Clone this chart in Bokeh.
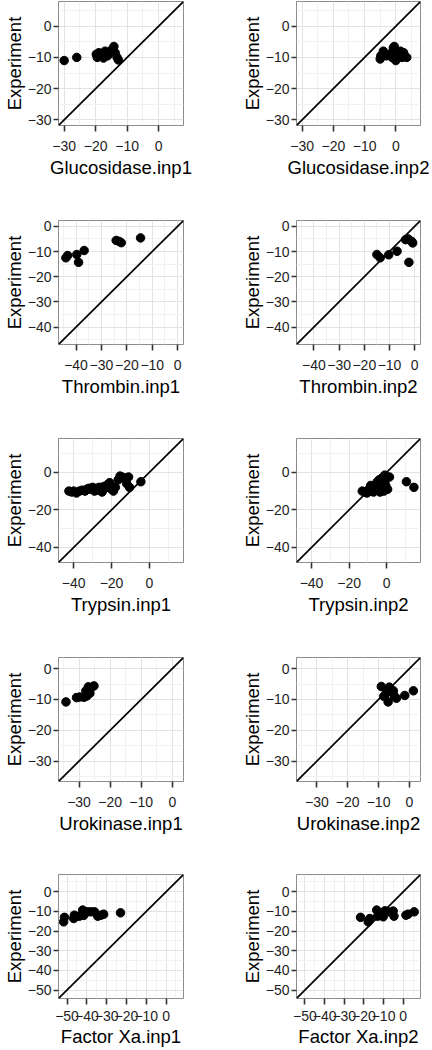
from bokeh.plotting import figure
from bokeh.models import Range1d, FixedTicker, Slope
from bokeh.layouts import column, row
from bokeh.embed import file_html
from bokeh.resources import INLINE

# ---------------- data ----------------
glu_inp1_x = [-30, -26, -19.8, -19.5, -19, -18.2, -17.5, -17, -16.2, -15.5, -14.8, -14.2, -13.8, -13.2, -12.8]
glu_inp1_y = [-11, -10, -9, -10, -8.5, -9, -10.2, -8, -9.5, -8.5, -7.5, -6.5, -8.5, -10, -10.8]
glu_inp2_x = [-5, -4.8, -4, -3, -2, -1.2, -0.8, -0.5, 0, 0.5, 1, 1.5, 2, 2.5, 3.5]
glu_inp2_y = [-10.5, -9.5, -8, -9.5, -9, -10, -7, -6.5, -11, -8.5, -9.5, -8, -10, -8.5, -10]

thr_inp1_x = [-44, -43.3, -39.7, -39, -36.8, -24.2, -23, -22.2, -14.6]
thr_inp1_y = [-12.5, -11.6, -11.2, -14.3, -9.6, -5.6, -6, -6.5, -4.6]
thr_inp2_x = [-15, -13.7, -10.3, -7, -3.6, -2.6, -2.3, -1.2, -0.8]
thr_inp2_y = [-11.2, -12.5, -11.3, -9.9, -5.3, -5, -14.3, -6, -6.6]

try_inp1_x = [-42.5, -41, -40, -38.5, -37, -35.5, -34, -33, -32, -31, -30, -29, -28, -27.5, -26.5, -25.5,
              -25, -24, -23.5, -22, -21, -20, -19, -18, -16.5, -15.5, -14.5, -13, -12, -11, -10.5, -4.5]
try_inp1_y = [-10, -10.5, -10, -11, -10, -9.5, -10, -9, -8.5, -9, -8, -10, -8.5, -9.5, -8, -9,
              -10.5, -7.5, -8.5, -6.5, -5.5, -9, -10, -8, -4, -2, -2.5, -3, -6, -2.5, -8, -5]
try_inp2_x = [-13, -11.5, -10.5, -9.5, -8.5, -8, -7, -7, -6, -5.5, -5, -4.5, -4, -3.5, -3, -3, -2.5, -2,
              -1.5, -1, -1, -0.5, 0, 0.5, 1.5, 10.5, 14.5]
try_inp2_y = [-10, -10.5, -11, -9, -7, -10, -8, -10.5, -6.5, -9, -5, -8, -4, -10.5, -6, -9, -3, -8,
              -10, -1.5, -5, -7, -3, -9, -2.5, -5, -8]

uro_inp1_x = [-34.2, -30.8, -29.8, -28.4, -27.8, -27.5, -27, -26.5, -26.2, -25.2]
uro_inp1_y = [-10.8, -9.4, -9.2, -9.3, -7.2, -8.9, -5.9, -8, -6.3, -5.6]
uro_inp2_x = [-9.1, -8.3, -7.5, -6.9, -6.5, -5.2, -4.8, -4.2, -1.5, 1.3]
uro_inp2_y = [-5.8, -9, -8, -10.8, -6, -7.2, -9, -9.6, -8.7, -7.2]

fxa_inp1_x = [-51.7, -51.3, -46.6, -46.3, -43.8, -42.1, -41.6, -39.7, -38, -36.1, -34.5, -32.8, -31.5, -23]
fxa_inp1_y = [-15.3, -13, -13.6, -11.9, -12.4, -9.3, -12, -10.2, -10.2, -10.2, -12.4, -11.9, -11.4, -10.7]
fxa_inp2_x = [-21.7, -17.8, -17, -13.5, -13, -11, -10.2, -9.3, -7.6, -5.1, -4.7, 1.4, 2.5, 5.6]
fxa_inp2_y = [-13, -15.3, -13.6, -9.3, -12.4, -11, -12.7, -9.7, -10.2, -9.8, -12.4, -11.9, -11.4, -10.2]

# axis limits (same for x and y) and tick values per target
glu_limits = (-31.8, 7.9)
thr_limits = (-46.9, 2.3)
try_limits = (-48.0, 18.0)
uro_limits = (-36.6, 3.6)
fxa_limits = (-54.3, 8.8)

glu_ticks, glu_minor = [-30, -20, -10, 0], [-25, -15, -5, 5]
thr_ticks, thr_minor = [-40, -30, -20, -10, 0], [-45, -35, -25, -15, -5]
try_ticks, try_minor = [-40, -20, 0], [-30, -10, 10]
uro_ticks, uro_minor = [-30, -20, -10, 0], [-35, -25, -15, -5]
fxa_ticks, fxa_minor = [-50, -40, -30, -20, -10, 0], [-45, -35, -25, -15, -5, 5]

panels = [
    ("Glucosidase", glu_limits, glu_ticks, glu_minor, (glu_inp1_x, glu_inp1_y), (glu_inp2_x, glu_inp2_y)),
    ("Thrombin", thr_limits, thr_ticks, thr_minor, (thr_inp1_x, thr_inp1_y), (thr_inp2_x, thr_inp2_y)),
    ("Trypsin", try_limits, try_ticks, try_minor, (try_inp1_x, try_inp1_y), (try_inp2_x, try_inp2_y)),
    ("Urokinase", uro_limits, uro_ticks, uro_minor, (uro_inp1_x, uro_inp1_y), (uro_inp2_x, uro_inp2_y)),
    ("Factor Xa", fxa_limits, fxa_ticks, fxa_minor, (fxa_inp1_x, fxa_inp1_y), (fxa_inp2_x, fxa_inp2_y)),
]

# ---------------- layout ----------------
FONT = "Liberation Sans"
row_heights = [210, 218, 219, 217, 186]
row_tops = [1, 10, 10, 10, 10]
PLOT_H = 124


def make_panel(title, limits, ticks, minor, xs, ys, col, ri):
    lo, hi = limits
    h = row_heights[ri]
    mt = row_tops[ri]
    mb = h - mt - PLOT_H
    if col == 0:
        ml, mr = 57, 33
    else:
        ml, mr = 80, 12
    p = figure(width=216, height=h, x_range=Range1d(lo, hi), y_range=Range1d(lo, hi),
               output_backend="svg", toolbar_location=None,
               min_border_left=ml, min_border_right=mr,
               min_border_top=mt, min_border_bottom=mb)
    p.background_fill_color = "white"
    p.border_fill_color = "white"
    p.outline_line_color = "#8c8c8c"
    p.outline_line_width = 1

    for ax in (p.xaxis[0], p.yaxis[0]):
        ax.ticker = FixedTicker(ticks=ticks, minor_ticks=minor)
        ax.axis_line_color = None
        ax.major_tick_in = 0
        ax.major_tick_line_color = "#333333"
        ax.major_tick_line_width = 1.6
        ax.minor_tick_line_color = None
        ax.major_label_text_font = FONT
        ax.major_label_text_font_size = "14px"
        ax.major_label_text_color = "#1e1e1e"
        ax.axis_label_text_font = FONT
        ax.axis_label_text_font_size = "18.5px"
        ax.axis_label_text_font_style = "normal"
        ax.axis_label_text_color = "black"
    last = ri == len(row_heights) - 1
    p.xaxis.major_tick_out = 6
    p.xaxis.major_label_standoff = 6 if last else 9
    p.xaxis.axis_label_standoff = 2 if last else 3
    p.yaxis.major_tick_out = 5
    p.yaxis.major_label_standoff = 2
    p.yaxis.axis_label_standoff = 0
    p.xaxis.axis_label = f"{title}.inp{col + 1}"
    p.yaxis.axis_label = "Experiment"

    p.grid.grid_line_color = "#e3e3e3"
    p.grid.grid_line_width = 1
    p.grid.minor_grid_line_color = "#f1f1f1"
    p.grid.minor_grid_line_width = 1

    p.add_layout(Slope(gradient=1, y_intercept=0, line_color="black", line_width=1.7))
    p.scatter(xs, ys, size=8.5, fill_color="black", line_color="black")
    return p


rows = []
for ri, (title, limits, ticks, minor, d1, d2) in enumerate(panels):
    f1 = make_panel(title, limits, ticks, minor, d1[0], d1[1], 0, ri)
    f2 = make_panel(title, limits, ticks, minor, d2[0], d2[1], 1, ri)
    rows.append(row(f1, f2))

layout = column(*rows)

open("out.html", "w").write(file_html(layout, INLINE))
